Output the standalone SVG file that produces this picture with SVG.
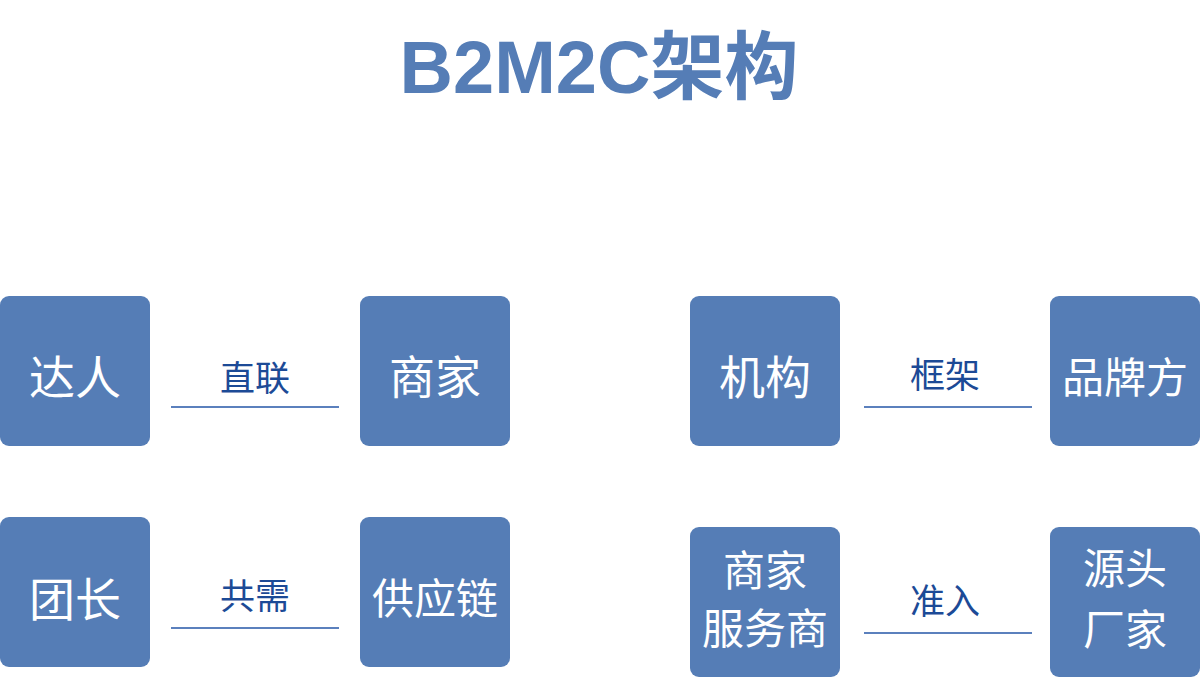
<svg xmlns="http://www.w3.org/2000/svg" width="1200" height="700" viewBox="0 0 1200 700">
<style>
.box{fill:#557db6;}
.bt{fill:#ffffff;font-family:"Noto Sans CJK SC","Noto Sans",sans-serif;font-size:46px;text-anchor:middle;}
.bt2{font-size:42px;}
.lb{fill:#1c4a96;font-family:"Noto Sans CJK SC","Noto Sans",sans-serif;font-size:35px;text-anchor:middle;}
.ln{stroke:#5b80bd;stroke-width:2;fill:none;}
.title{fill:#557db6;font-family:"Liberation Sans","Noto Sans CJK SC",sans-serif;font-weight:bold;font-size:74px;text-anchor:middle;}
</style>
<rect width="1200" height="700" fill="#ffffff"/>
<text class="title" x="599" y="93">B2M2C架构</text>
<g id="connectors">
<line class="ln" x1="171" y1="407" x2="339" y2="407"/>
<line class="ln" x1="171" y1="628" x2="339" y2="628"/>
<line class="ln" x1="864" y1="407" x2="1032" y2="407"/>
<line class="ln" x1="864" y1="633" x2="1032" y2="633"/>
<text class="lb" x="255" y="391">直联</text>
<text class="lb" x="255" y="609">共需</text>
<text class="lb" x="945" y="388">框架</text>
<text class="lb" x="945" y="614">准入</text>
</g>
<g id="daren">
<rect class="box" x="0" y="296" width="150" height="150" rx="9"/>
<text class="bt" x="75" y="394">达人</text>
</g>
<g id="shangjia">
<rect class="box" x="360" y="296" width="150" height="150" rx="9"/>
<text class="bt" x="435" y="394">商家</text>
</g>
<g id="tuanzhang">
<rect class="box" x="0" y="517" width="150" height="150" rx="9"/>
<text class="bt" x="75" y="616">团长</text>
</g>
<g id="gongyinglian">
<rect class="box" x="360" y="517" width="150" height="150" rx="9"/>
<text class="bt bt2" x="435" y="614">供应链</text>
</g>
<g id="jigou">
<rect class="box" x="690" y="296" width="150" height="150" rx="9"/>
<text class="bt" x="765" y="394">机构</text>
</g>
<g id="pinpaifang">
<rect class="box" x="1050" y="296" width="150" height="150" rx="9"/>
<text class="bt bt2" x="1125" y="393">品牌方</text>
</g>
<g id="fuwushang">
<rect class="box" x="690" y="527" width="150" height="150" rx="9"/>
<text class="bt bt2" x="765" y="586">商家</text>
<text class="bt bt2" x="765" y="644">服务商</text>
</g>
<g id="yuantouchangjia">
<rect class="box" x="1050" y="527" width="150" height="150" rx="9"/>
<text class="bt bt2" x="1125" y="584">源头</text>
<text class="bt bt2" x="1125" y="645">厂家</text>
</g>
</svg>
